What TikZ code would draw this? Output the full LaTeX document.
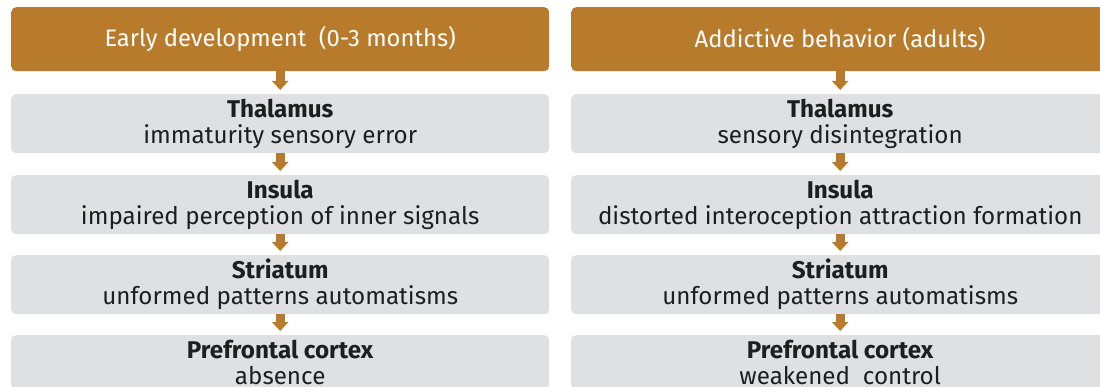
\documentclass[tikz,border=0pt]{standalone}
\usepackage{fontspec}
\setmainfont{Fira Sans}
\usetikzlibrary{arrows.meta}
\definecolor{hdr}{HTML}{B87A2B}
\definecolor{box}{HTML}{DFE0E2}
\definecolor{txt}{HTML}{1E1E1E}
\tikzset{
  hdrbox/.style={fill=hdr, rounded corners=5pt, minimum width=538pt, minimum height=64pt, inner sep=0pt, text=white, font=\fontsize{23.8}{26}\selectfont, anchor=north west},
  graybox/.style={fill=box, rounded corners=5pt, minimum width=538pt, minimum height=59pt, inner sep=0pt, text=txt, align=center, font=\fontsize{24.2}{26}\selectfont, anchor=north west},
  lastbox/.style={graybox, minimum height=54pt},
  flowarrow/.style={hdr, line width=9pt, -{Triangle[width=16pt,length=9pt]}, shorten >=4pt}
}
\begin{document}
\begin{tikzpicture}[x=1pt,y=-1pt]
\useasboundingbox (0,0) rectangle (1100,387);
\clip (0,0) rectangle (1100,387);
% left column
\node[hdrbox] (lh) at (11,7) {Early development\ \ (0-3 months)};
\node[graybox] (l1) at (11,94) {\textbf{Thalamus}\\immaturity sensory error};
\node[graybox] (l2) at (11,175) {\textbf{Insula}\\impaired perception of inner signals};
\node[graybox] (l3) at (11,255) {\textbf{Striatum}\\unformed patterns automatisms};
\node[lastbox] (l4) at (11,335) {\textbf{Prefrontal cortex}\\absence};
% right column
\node[hdrbox] (rh) at (571,7) {Addictive behavior (adults)};
\node[graybox] (r1) at (571,94) {\textbf{Thalamus}\\sensory disintegration};
\node[graybox] (r2) at (571,175) {\textbf{Insula}\\distorted interoception attraction formation};
\node[graybox] (r3) at (571,255) {\textbf{Striatum}\\unformed patterns automatisms};
\node[lastbox] (r4) at (571,335) {\textbf{Prefrontal cortex}\\weakened\ \ control};
% arrows
\draw[flowarrow] (lh.south) -- (l1.north);
\draw[flowarrow] (l1.south) -- (l2.north);
\draw[flowarrow] (l2.south) -- (l3.north);
\draw[flowarrow] (l3.south) -- (l4.north);
\draw[flowarrow] (rh.south) -- (r1.north);
\draw[flowarrow] (r1.south) -- (r2.north);
\draw[flowarrow] (r2.south) -- (r3.north);
\draw[flowarrow] (r3.south) -- (r4.north);
\end{tikzpicture}
\end{document}
